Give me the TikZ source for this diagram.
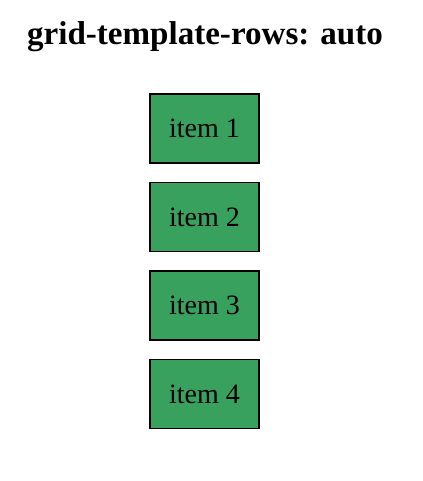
\documentclass[tikz,border=0pt]{standalone}
\usepackage{fontspec}
\setmainfont{Liberation Serif}
\definecolor{boxgreen}{RGB}{56,161,94}
\begin{document}
\begin{tikzpicture}[x=0.75pt,y=-0.75pt,
  itembox/.style={draw=black,line width=0.8pt,fill=boxgreen,minimum width=81.75pt,minimum height=51.75pt,inner sep=0pt,font=\fontsize{21}{25}\selectfont}]
\useasboundingbox (0,0) rectangle (422,481);
\node[anchor=base,inner sep=0pt,font=\fontsize{24.8}{30}\selectfont\bfseries] (title) at (205,45) {grid-template-rows: auto};
\node[itembox] (i1) at (204.5,128.5) {item 1};
\node[itembox] (i2) at (204.5,217) {item 2};
\node[itembox] (i3) at (204.5,305.5) {item 3};
\node[itembox] (i4) at (204.5,394) {item 4};
\end{tikzpicture}
\end{document}
